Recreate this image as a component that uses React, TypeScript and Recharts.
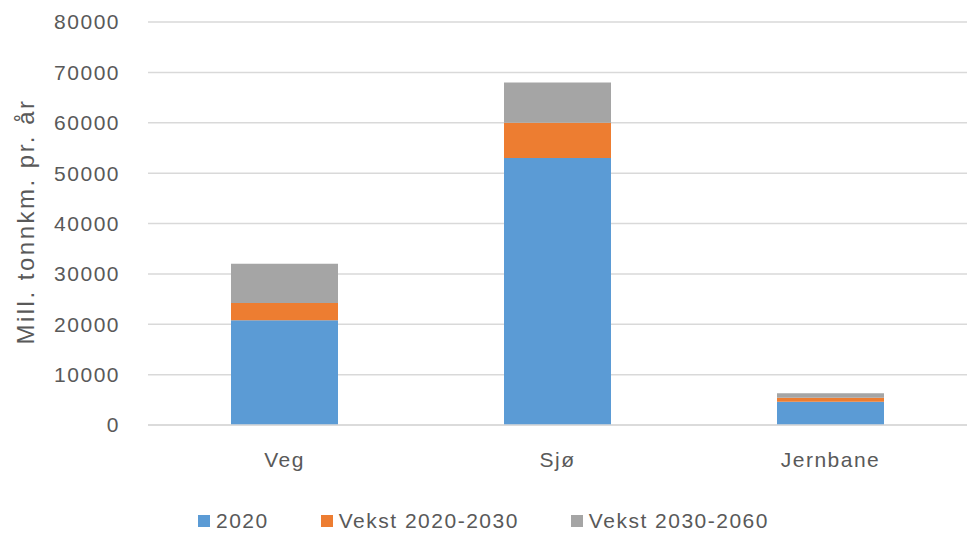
import {Bar, BarChart, CartesianGrid, Label, Legend, XAxis, YAxis} from 'recharts'

const categories = ['Veg', 'Sjø', 'Jernbane']
const base2020 = [20800, 53000, 4600]
const growth2020to2030 = [3400, 7000, 800]
const growth2030to2060 = [7800, 8000, 900]
const yTicks = [0, 10000, 20000, 30000, 40000, 50000, 60000, 70000, 80000]

const series = [
    {key: 'a', name: '2020', color: '#5B9BD5'},
    {key: 'b', name: 'Vekst 2020-2030', color: '#ED7D31'},
    {key: 'c', name: 'Vekst 2030-2060', color: '#A5A5A5'},
]

const data = categories.map((name, i) => ({
    name,
    a: base2020[i],
    b: growth2020to2030[i],
    c: growth2030to2060[i],
}))

const font = '"Liberation Sans", Arial, sans-serif'
const textColor = '#595959'
const tickStyle = {fontSize: 21, fill: textColor, fontFamily: font, letterSpacing: 1.5}

const LegendContent = () => (
    <div style={{display: 'flex', justifyContent: 'center', gap: 52, fontFamily: font, fontSize: 21, lineHeight: '24px', color: textColor, letterSpacing: 1.5}}>
        {series.map(s => (
            <div key={s.key} style={{display: 'flex', alignItems: 'center'}}>
                <span style={{display: 'inline-block', width: 12, height: 12, background: s.color, marginRight: 6}} />
                <span>{s.name}</span>
            </div>
        ))}
    </div>
)

const App = () => {
    return (
        <div style={{position: 'absolute', left: 0, top: 0, background: '#fff'}}>
            <BarChart width={967} height={537} data={data} margin={{top: 22, right: 0, left: 0, bottom: 0}}>
                <CartesianGrid vertical={false} stroke="#d9d9d9" strokeWidth={1.5} />
                <XAxis
                    dataKey="name"
                    height={84}
                    axisLine={{stroke: '#d9d9d9', strokeWidth: 1.5}}
                    tickLine={false}
                    tick={tickStyle}
                    tickMargin={21}
                />
                <YAxis
                    width={148}
                    domain={[0, 80000]}
                    ticks={yTicks}
                    axisLine={false}
                    tickLine={false}
                    tick={tickStyle}
                    tickMargin={22}
                >
                    <Label
                        content={({viewBox}: any) => {
                            const cx = 25
                            const cy = viewBox.y + viewBox.height / 2 - 2
                            return (
                                <text x={cx} y={cy} transform={`rotate(-90, ${cx}, ${cy})`} textAnchor="middle"
                                      dominantBaseline="central" fill={textColor} fontSize={24} fontFamily={font} letterSpacing={2.5}>
                                    Mill. tonnkm. pr. år
                                </text>
                            )
                        }}
                    />
                </YAxis>
                <Legend verticalAlign="bottom" height={28} content={<LegendContent />} />
                {series.map(s => (
                    <Bar key={s.key} dataKey={s.key} name={s.name} stackId="x" fill={s.color} barSize={107} isAnimationActive={false} />
                ))}
            </BarChart>
        </div>
    )
}

export default App
